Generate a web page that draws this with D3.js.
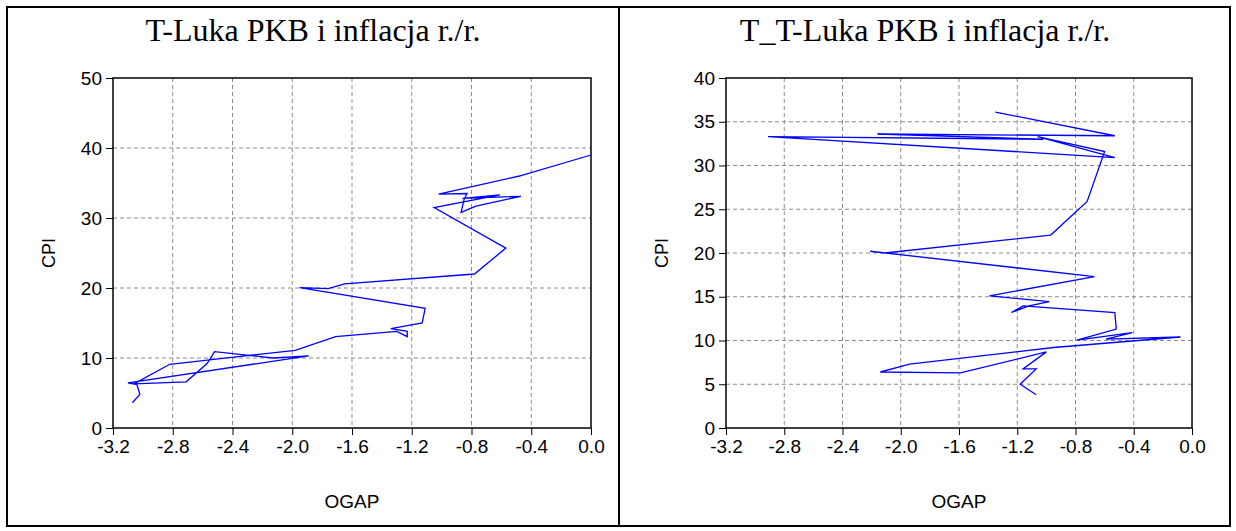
<!DOCTYPE html>
<html>
<head>
<meta charset="utf-8">
<script src="https://cdn.jsdelivr.net/npm/d3@7"></script>
<style>
  body { margin: 0; background: #fff; }
  svg { display: block; }
</style>
</head>
<body>
<svg id="chart" width="1236" height="531"></svg>
<script>
// --- data ---
const leftTitle = "T-Luka PKB i inflacja r./r.";
const rightTitle = "T_T-Luka PKB i inflacja r./r.";

const leftOgap = [0.00, -0.48, -1.02, -0.83, -0.85, -0.87, -0.77, -0.47, -0.86, -0.61, -1.05,
  -0.57, -0.78, -1.65, -1.76, -1.95, -1.11, -1.13, -1.34, -1.23, -1.23, -1.30, -1.71, -1.98,
  -2.82, -3.06, -2.71, -2.57, -2.52, -2.13, -1.89, -3.10, -3.04, -3.02, -3.07];
const leftCpi = [39.0, 36.0, 33.4, 33.5, 32.6, 30.8, 31.7, 33.1, 32.8, 33.3, 31.5,
  25.7, 22.0, 20.6, 19.9, 20.05, 17.1, 15.0, 14.2, 13.8, 13.05, 13.8, 13.05, 11.1,
  9.1, 6.3, 6.6, 9.2, 10.9, 10.0, 10.3, 6.45, 6.2, 4.8, 3.6];

const rightOgap = [-1.35, -0.53, -2.16, -1.02, -2.91, -0.53, -1.06, -0.60, -0.72, -0.97,
  -2.11, -2.21, -0.67, -1.39, -0.98, -1.12, -1.24, -1.16, -0.53, -0.52, -0.79, -0.41, -0.59,
  -0.08, -0.95, -1.94, -2.14, -1.59, -1.00, -1.16, -1.07, -1.18, -1.07];
const rightCpi = [36.1, 33.4, 33.6, 33.0, 33.3, 30.9, 33.3, 31.6, 25.9, 22.05,
  20.0, 20.2, 17.3, 15.1, 14.45, 13.95, 13.2, 13.95, 13.2, 11.3, 10.05, 10.9, 10.15,
  10.4, 9.2, 7.3, 6.4, 6.3, 8.7, 6.75, 6.75, 5.0, 3.8];

const xTicks = [-3.2, -2.8, -2.4, -2.0, -1.6, -1.2, -0.8, -0.4, 0.0];
const leftYTicks = [0, 10, 20, 30, 40, 50];
const rightYTicks = [0, 5, 10, 15, 20, 25, 30, 35, 40];

const svg = d3.select("#chart");

// outer frame and divider
svg.append("rect")
  .attr("x", 7).attr("y", 7)
  .attr("width", 1223).attr("height", 519)
  .attr("fill", "none").attr("stroke", "#000").attr("stroke-width", 2);
svg.append("line")
  .attr("x1", 619).attr("x2", 619).attr("y1", 7).attr("y2", 526)
  .attr("stroke", "#000").attr("stroke-width", 2);

const fmt1 = d3.format(".1f");

function drawPanel(opts) {
  const { left, right, top, bottom, yMax, yTicks, xs, ys, title, titleX, cpiX } = opts;
  const g = svg.append("g");

  const x = d3.scaleLinear().domain([-3.2, 0]).range([left, right]);
  const y = d3.scaleLinear().domain([0, yMax]).range([bottom, top]);

  // dashed grid
  g.selectAll("line.vgrid")
    .data(xTicks.slice(1, -1))
    .join("line")
      .attr("x1", d => x(d)).attr("x2", d => x(d))
      .attr("y1", top).attr("y2", bottom)
      .attr("stroke", "#8c8c8c").attr("stroke-width", 1)
      .attr("stroke-dasharray", "4,3");
  g.selectAll("line.hgrid")
    .data(yTicks.slice(1, -1))
    .join("line")
      .attr("x1", left).attr("x2", right)
      .attr("y1", d => y(d)).attr("y2", d => y(d))
      .attr("stroke", "#8c8c8c").attr("stroke-width", 1)
      .attr("stroke-dasharray", "4,3");

  // axes (plain hyphen as minus, like the original)
  const xAxis = d3.axisBottom(x).tickValues(xTicks)
    .tickFormat(d => fmt1(d).replace("\u2212", "-"))
    .tickSizeInner(7).tickSizeOuter(0).tickPadding(5);
  const yAxis = d3.axisLeft(y).tickValues(yTicks)
    .tickSizeInner(7).tickSizeOuter(0).tickPadding(4);

  const gx = g.append("g").attr("transform", `translate(0,${bottom})`).call(xAxis);
  const gy = g.append("g").attr("transform", `translate(${left},0)`).call(yAxis);
  [gx, gy].forEach(a => {
    a.select(".domain").remove();
    a.selectAll("line").attr("stroke", "#000");
    a.selectAll("text")
      .attr("fill", "#000")
      .style("font-family", "'Liberation Sans', Arial, sans-serif")
      .style("font-size", "19px");
  });

  // plot frame
  g.append("rect")
    .attr("x", left).attr("y", top)
    .attr("width", right - left).attr("height", bottom - top)
    .attr("fill", "none").attr("stroke", "#000").attr("stroke-width", 1.5);

  // series
  const pts = xs.map((v, i) => [v, ys[i]]);
  g.append("path")
    .datum(pts)
    .attr("fill", "none")
    .attr("stroke", "#0000ff")
    .attr("stroke-width", 1.3)
    .attr("d", d3.line().x(d => x(d[0])).y(d => y(d[1])));

  // titles
  g.append("text")
    .attr("x", titleX).attr("y", 41)
    .attr("text-anchor", "middle")
    .style("font-family", "'Liberation Serif', 'Times New Roman', serif")
    .style("font-size", "32px")
    .text(title);

  g.append("text")
    .attr("x", (left + right) / 2).attr("y", 508)
    .attr("text-anchor", "middle")
    .style("font-family", "'Liberation Sans', Arial, sans-serif")
    .style("font-size", "19px")
    .text("OGAP");

  g.append("text")
    .attr("transform", `translate(${cpiX},${(top + bottom) / 2}) rotate(-90)`)
    .attr("text-anchor", "middle")
    .style("font-family", "'Liberation Sans', Arial, sans-serif")
    .style("font-size", "18px")
    .text("CPI");
}

drawPanel({
  left: 113, right: 591, top: 78, bottom: 428,
  yMax: 50, yTicks: leftYTicks,
  xs: leftOgap, ys: leftCpi,
  title: leftTitle, titleX: 313, cpiX: 55
});

drawPanel({
  left: 726, right: 1192, top: 78, bottom: 428,
  yMax: 40, yTicks: rightYTicks,
  xs: rightOgap, ys: rightCpi,
  title: rightTitle, titleX: 925, cpiX: 668
});
</script>
</body>
</html>
